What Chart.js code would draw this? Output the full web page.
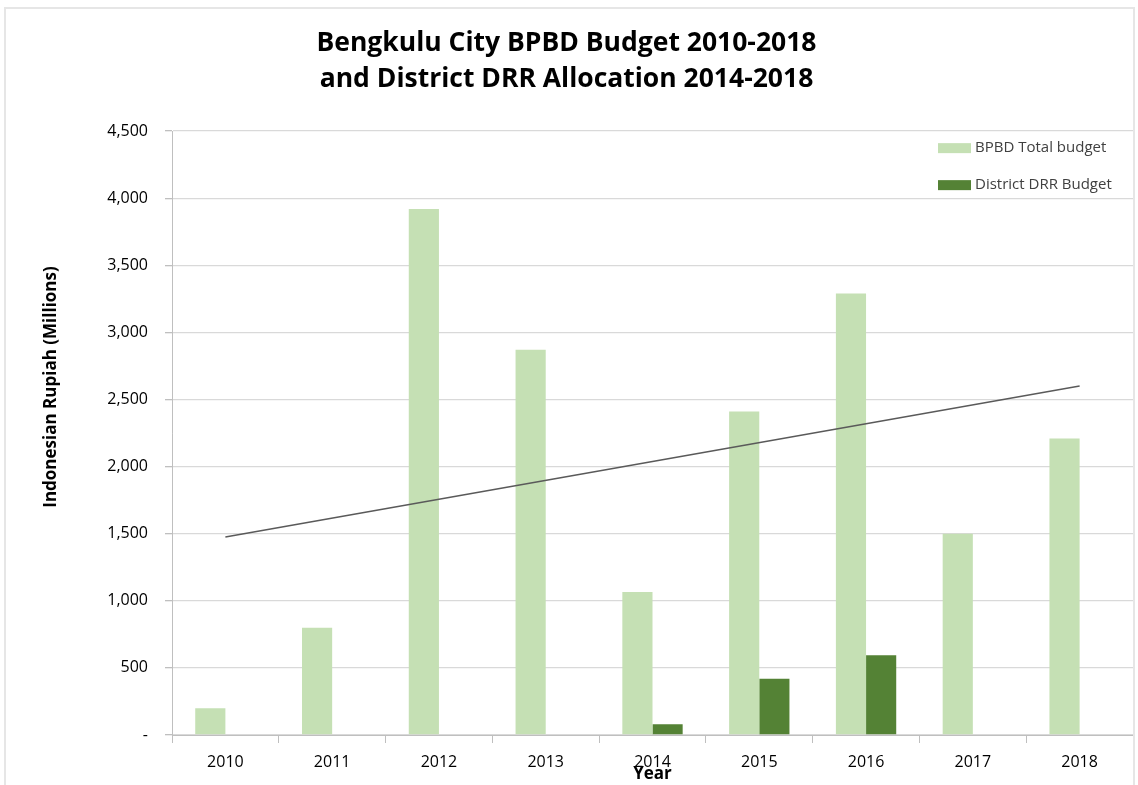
<!DOCTYPE html>
<html>
<head>
<meta charset="utf-8">
<script src="https://cdn.jsdelivr.net/npm/chart.js@4.4.0/dist/chart.umd.min.js"></script>
<style>
  html, body { margin: 0; padding: 0; background: #fff; }
  #wrap { position: relative; width: 1138px; height: 785px; }
  #frame {
    position: absolute; left: 4px; top: 7px; width: 1131px; height: 790px;
    border: 2px solid #e6e6e6; box-sizing: border-box; pointer-events: none;
  }
</style>
</head>
<body>
<div id="wrap">
  <canvas id="chart" width="1138" height="785"></canvas>
  <div id="frame"></div>
</div>
<script>
// data
var years = ['2010', '2011', '2012', '2013', '2014', '2015', '2016', '2017', '2018'];
var bpbdTotal = [200, 800, 3920, 2870, 1065, 2410, 3290, 1500, 2210];
var districtDrr = [null, null, null, null, 80, 420, 595, null, null];
var trendYears = ['2010', '2018'];
var trendValues = [1475, 2600];
var yTicks = [0, 500, 1000, 1500, 2000, 2500, 3000, 3500, 4000, 4500];

var titleLines = ['Bengkulu City BPBD Budget 2010-2018', 'and District DRR Allocation 2014-2018'];
var yTitle = 'Indonesian Rupiah (Millions)';
var xTitle = 'Year';

var lightGreen = '#c5e0b4';
var darkGreen = '#548235';
var font = "'Open Sans', 'Noto Sans', sans-serif";

// legend box drawn inside the plot area, top right (as in the original)
var insideLegend = {
  id: 'insideLegend',
  afterDraw: function (chart) {
    var ctx = chart.ctx;
    var area = chart.chartArea;
    var items = [
      { label: 'BPBD Total budget', color: lightGreen },
      { label: 'District DRR Budget', color: darkGreen }
    ];
    ctx.save();
    ctx.font = '15px ' + font;
    ctx.textBaseline = 'middle';
    items.forEach(function (it, i) {
      var y = area.top + 17 + i * 37;
      var x = area.right - 195;
      ctx.fillStyle = it.color;
      ctx.fillRect(x, y - 5, 33, 10);
      ctx.fillStyle = '#404040';
      ctx.fillText(it.label, x + 37, y);
    });
    ctx.restore();
  }
};

// y axis title, sits a bit higher than the middle of the axis
var sideTitle = {
  id: 'sideTitle',
  afterDraw: function (chart) {
    var ctx = chart.ctx;
    ctx.save();
    ctx.translate(51, 387);
    ctx.rotate(-Math.PI / 2);
    ctx.font = 'bold 17px ' + font;
    ctx.fillStyle = '#000';
    ctx.textAlign = 'center';
    ctx.textBaseline = 'middle';
    ctx.fillText(yTitle, 0, 0);
    ctx.restore();
  }
};

var ctx = document.getElementById('chart').getContext('2d');

new Chart(ctx, {
  type: 'bar',
  data: {
    labels: years,
    datasets: [
      {
        label: 'BPBD Total budget',
        data: bpbdTotal,
        backgroundColor: lightGreen,
        categoryPercentage: 0.565,
        barPercentage: 1,
        order: 2
      },
      {
        label: 'District DRR Budget',
        data: districtDrr,
        backgroundColor: darkGreen,
        categoryPercentage: 0.565,
        barPercentage: 1,
        order: 2
      },
      {
        type: 'line',
        label: 'Trend',
        data: trendYears.map(function (y, i) { return { x: y, y: trendValues[i] }; }),
        borderColor: '#5a5a5a',
        borderWidth: 1.5,
        pointRadius: 0,
        fill: false,
        order: 1
      }
    ]
  },
  options: {
    responsive: false,
    animation: false,
    layout: { padding: { top: 0, right: 5, bottom: 0, left: 0 } },
    plugins: {
      legend: { display: false },
      tooltip: { enabled: false },
      title: {
        display: true,
        text: titleLines,
        color: '#000',
        font: { family: font, size: 26.5, weight: 'bold', lineHeight: 1.38 },
        padding: { top: 25, bottom: 33 }
      }
    },
    scales: {
      x: {
        grid: { display: true, drawOnChartArea: false, drawTicks: true, tickLength: 8, color: '#bfbfbf', offset: true },
        border: { display: true, color: '#bfbfbf' },
        ticks: { color: '#000', font: { family: font, size: 16 }, padding: 10 },
        title: { display: true, text: xTitle, color: '#000', font: { family: font, size: 17, weight: 'bold', lineHeight: 1.2 }, padding: { top: 0, bottom: 1 } },
        afterFit: function (scale) { scale.height = 50; }
      },
      y: {
        min: 0,
        max: 4500,
        afterBuildTicks: function (scale) { scale.ticks = yTicks.map(function (v) { return { value: v }; }); },
        grid: { color: '#d9d9d9', lineWidth: 1.3, tickLength: 7, drawTicks: true, tickColor: '#bfbfbf' },
        border: { display: true, color: '#bfbfbf' },
        ticks: {
          color: '#000',
          font: { family: font, size: 16 },
          padding: 17,
          callback: function (v) { return v === 0 ? '-' : v.toLocaleString('en-US'); }
        },
        afterFit: function (scale) { scale.width = 172; }
      }
    }
  },
  plugins: [insideLegend, sideTitle]
});
</script>
</body>
</html>
